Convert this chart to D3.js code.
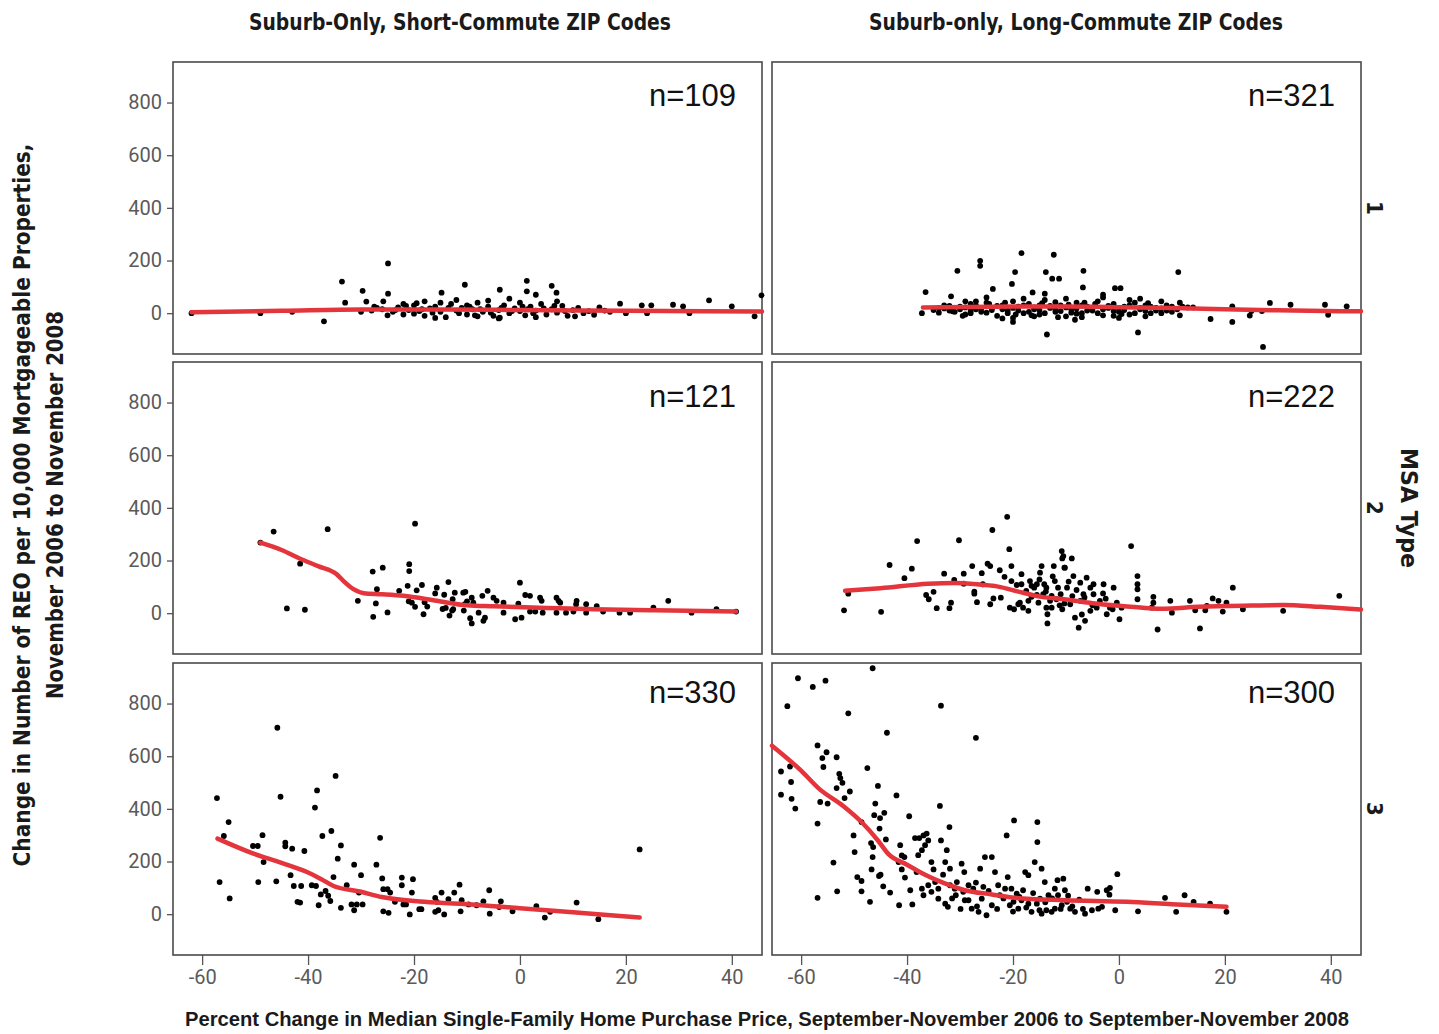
<!DOCTYPE html>
<html>
<head>
<meta charset="utf-8">
<script src="https://cdn.jsdelivr.net/npm/d3@7.9.0/dist/d3.min.js"></script>
<style>
  body { margin: 0; background: #fff; }
  .title { font-family: "Liberation Sans Narrow", "DejaVu Sans Condensed", sans-serif; font-weight: bold; fill: #1a1a1a; }
  .tick text { font-family: "Liberation Sans Narrow", "Roboto", sans-serif; font-size: 20px; fill: #5a5a5a; }
  .tick line { stroke: #555; stroke-width: 1.3; }
</style>
</head>
<body>
<svg width="1439" height="1034"></svg>
<script>
// column / row labels
const colTitles = ['Suburb-Only, Short-Commute ZIP Codes', 'Suburb-only, Long-Commute ZIP Codes'];
const rowLabels = ['1', '2', '3'];
const nLabels = [['n=109', 'n=321'], ['n=121', 'n=222'], ['n=330', 'n=300']];
const xTicks = [-60, -40, -20, 0, 20, 40];
const yTicks = [0, 200, 400, 600, 800];

// MSA type 1, short commute
const short1 = [[-62,0],[-49,0],[-43,5],[-37,-31],[-33.6,120],[-33,40],[-29.7,85],[-29,44],[-24.9,189],[-24.9,74],
  [-25.8,45],[-10.4,108],[-14.8,78],[1.3,123],[6,104],[1.3,83],[-3.8,89],[3,70],[6.9,78],[35.7,49],[40,26],[45.6,68],
  [44.3,-12],[28.9,32],[30.8,26],[32,0],[24.8,30],[23,30],[24,0],[18.9,36],[20,0],[15,22],[10.4,-12],[-3.8,-17],
  [-28,10],[-27,20],[-26,15],[-24,5],[-23,22],[-22,-5],[-21,12],[-20,30],[-19,8],[-18,-10],[-17,18],[-16,25],[-15,5],
  [-14,-15],[-13,35],[-12,10],[-11,20],[-10,-5],[-9,15],[-8,40],[-7,5],[-6,25],[-5,-10],[-4,12],[-3,30],[-2,0],[-1,18],
  [0,8],[1,-8],[2,25],[3,10],[4,35],[5,-5],[6,15],[7,2],[8,28],[9,-10],[10,12],[11,20],[12,0],[13,8],[14,-6],[16,10],
  [17,5],[-18,45],[-12,50],[-6,48],[-2,55],[-25,-8],[-20,-2],[-16,-18],[-10,30],[-8,-12],[-4,-20],[0,40],[3,-15],
  [7,45],[-22,35],[-15,40],[-30,5],
  [-27.5,25],[-23.5,12],[-21.5,28],[-18.5,15],[-16.5,2],[-13.5,20],[-11.5,0],[-9.5,25],[-7.5,15],[-5.5,2],[-3.5,20],
  [-1.5,8],[0.5,25],[2.5,0],[4.5,18],[6.5,28],[8.5,8],[-19.5,38],[-8.5,-8],[1.5,15]];
const fitShort1 = [[-62,4],[-45,9],[-30,14],[-15,14],[0,12],[20,9],[45.7,6]];

// MSA type 1, long commute
const long1 = [[-37.2,0],[-36.5,80],[-30.5,161],[-26.2,199],[-26.2,180],[-31.7,64],[-31.4,7],[-18.4,228],[-12.3,222],
  [-19.6,156],[-20.2,111],[-13.8,156],[-12.6,131],[-11.3,131],[-23.8,92],[-16.3,79],[-20,-18],[-20,-33],[-13.6,-81],
  [-14,74],[-29,45],[-27,45],[-6.7,161],[11.2,156],[-0.75,95],[0.3,95],[-3,70],[-6.8,98],[3.6,-73],[0,-18],[-8.3,-25],
  [28.5,39],[32.4,32],[38.9,32],[39.5,-6],[43,26],[27.2,-128],[24.7,-9],[21.4,-33],[21.4,26],[17.3,-22],[14,22],[13,22],
  [11.5,40],[11.5,-8],[25,8],[27,8],
  [-34,20],[-33,30],[-32,10],[-30,25],[-29,-5],[-28,35],[-27,15],[-26,5],[-25,40],[-24,20],[-23,-10],[-22,30],[-21,10],
  [-20,45],[-19,25],[-18,0],[-17,35],[-16,15],[-15,-5],[-14,50],[-13,20],[-12,5],[-11,30],[-10,-12],[-9,15],[-8,40],
  [-7,0],[-6,25],[-5,10],[-4,45],[-3,-8],[-2,20],[-1,35],[0,5],[1,25],[2,-5],[3,40],[4,15],[5,30],[6,0],[7,20],[8,45],
  [9,10],[10,25],[-25,60],[-22,-20],[-18,55],[-15,30],[-10,55],[-7,-15],[-3,60],[2,50],[5,-12],[-28,0],[-16,-12],
  [-12,42],[-8,-2],[-1,-10],[4,55],[8,0],
  [-35,12],[-34,2],[-33,18],[-32,28],[-31,5],[-30,15],[-29,22],[-28,8],[-27,30],[-26,18],[-25,2],[-24,12],[-23,28],
  [-22,15],[-21,0],[-20,20],[-19,10],[-18,30],[-17,5],[-16,22],[-15,12],[-14,0],[-13,28],[-12,16],[-11,8],[-10,22],
  [-9,2],[-8,18],[-7,30],[-6,10],[-5,20],[-4,0],[-3,15],[-2,28],[-1,8],[0,18],[1,12],[2,30],[3,0],[4,20],[5,8],[6,25],
  [7,10],[8,18],[9,30],[10,5],[11,15],[12,25],[-24.5,35],[-19.5,-5],[-14.5,38],[-9.5,32],[-4.5,35],[0.5,-3],[5.5,38],
  [-29.5,-10],[-21.5,40],[-16.5,-8],[-11.5,-15],[-6.5,40]];
const fitLong1 = [[-37,22],[-20,25],[-10,25],[0,23],[10,20],[20,15],[30,11],[45.7,7]];

// MSA type 2, short commute
const short2 = [[-49,268],[-46.5,310],[-36.3,319],[-19.8,340],[-41.5,188],[-44,18],[-40.6,13],[-30.6,47],[-27.8,158],
  [-25.9,173],[-27.2,37],[-27.7,-14],[-25,3],[-27,91],[-20.9,186],[-20.9,160],[-22.8,85],[-21.2,104],[-19.5,87],
  [-18.5,107],[-21,45],[-20.4,40],[-19.8,24],[-18.2,-4],[-18,42],[-17.5,25],[-15.7,97],[-16,75],[-14.3,70],[-13.5,118],
  [-12.3,78],[-10.3,81],[-14.6,16],[-14,20],[-13.3,-9],[-12.8,10],[-12.6,15],[-12.7,53],[-10.6,10],[-10,45],[-9.4,-19],
  [-10.7,78],[-9.1,59],[-8.8,40],[-10.4,34],[-7.1,66],[-6.1,85],[-5,59],[-4.4,47],[-7.8,2],[-6.6,-17],[-6.9,-29],
  [-9.1,-39],[-3.1,40],[-3.1,2],[-0.9,-23],[0.3,-17],[0,116],[1,69],[1.9,66],[-0.3,36],[1.9,6],[2.9,6],[3.8,59],
  [4.1,47],[4.3,2],[6.9,59],[7.3,47],[7.6,40],[6.9,2],[8.7,2],[10.6,34],[10.7,47],[10.1,6],[12.5,34],[12.5,2],
  [14.5,27],[15.7,6],[18.8,2],[20.8,2],[25.2,21],[28,47],[32.4,2],[37.1,15],[40.8,6]];
const fitShort2 = [[-49,268],[-45,240],[-41.5,207],[-38,178],[-34.6,148],[-33.3,122],[-31.5,92],[-29.5,76],[-26,72],
  [-22,66],[-15.7,47],[-10,30],[-5,26],[5,20],[14,15],[25,11],[40.8,6]];

// MSA type 2, long commute
const long2 = [[-51.9,11],[-51.1,74],[-44.9,5],[-43.3,183],[-40.5,133],[-39.1,169],[-38.1,274],[-30.2,277],[-36.4,69],
  [-35.9,53],[-35,81],[-34.4,19],[-32,19],[-31.7,40],[-33,150],[-31.1,126],[-29.3,150],[-29.3,112],[-27.7,179],
  [-27.3,82],[-27.3,74],[-26.8,42],[-25.9,152],[-25.7,110],[-24.8,188],[-24.3,179],[-24.3,34],[-23.9,316],[-21.1,366],
  [-20.7,243],[-23.7,56],[-22.3,59],[-21.6,138],[-22.5,163],[-20.3,179],[-20.3,122],[-20.6,21],[-19.8,15],[-19,34],
  [-18.4,148],[-19.3,107],[-18.4,110],[-18.1,21],[-17.1,9],[-16.8,122],[-16.5,104],[-16,97],[-15.5,69],[-14.9,154],
  [-14.6,179],[-14.1,110],[-13.7,97],[-13.7,21],[-13.5,-4],[-13.5,-39],[-13,47],[-12.7,21],[-12.3,179],[-12.1,122],
  [-11.5,97],[-11,72],[-10.7,208],[-10.7,15],[-10.3,37],[-10.3,173],[-15.5,110],[-14.3,72],[-12.7,66],[-11.8,53],
  [-15.2,40],[-17.1,47],[-18.7,40],
  [-10.8,236],[-10.5,217],[-8.6,141],[-7.3,116],[-6.1,135],[-5.4,97],[-4.8,72],[-3.6,47],[-1.7,21],[-1,97],[-2.9,110],
  [-6.7,72],[-9.2,34],[-8.3,-17],[-6.4,-29],[-7.6,-55],[-4.2,21],[-9.8,97],[-10.2,173],[-8.9,208],[-7.3,47],[-5.4,9],
  [-2.3,-4],[-0.4,40],[-4.8,110],[2.3,255],[3.5,141],[3.5,110],[3.5,91],[3.5,53],[6.5,62],[6.5,40],[6.2,21],[9.7,47],
  [10,2],[13.4,47],[14.4,11],[16.3,11],[16.6,28],[17.7,56],[18.8,47],[19.6,6],[20.3,40],[21.5,97],[23.4,15],[31,9],
  [41.6,66],[15.3,-58],[7.3,-62],[0.1,-23],[-1.2,15],[0.5,21],
  [-17.5,85],[-15,128],[-12.5,140],[-9.5,120],[-8,88],[-6.5,60],[-5,30],[-3,75],[-16.5,62],[-13.8,82],[-11.2,30],
  [-8.8,65],[-7,-5],[-2.5,55]];
const fitLong2 = [[-51.7,85],[-45,95],[-36,112],[-31,115],[-26,108],[-22.8,101],[-19,82],[-14.6,62],[-10,52],[-5,38],
  [0,28],[5,20],[8,17],[15,24],[25,29],[31,31],[38,24],[45.7,14]];

// MSA type 3, short commute
const short3 = [[-57.2,441],[-55.9,297],[-55,350],[-56.7,122],[-54.8,60],[-50.4,259],[-49.5,259],[-48.6,300],
  [-49.4,122],[-48.4,198],[-46,125],[-45.8,708],[-45.2,446],[-44.3,272],[-44.3,258],[-43,249],[-43.3,148],[-42.7,107],
  [-41.3,107],[-40.7,240],[-42,47],[-41.5,44],[-39.3,110],[-38.5,107],[-38.7,405],[-38.3,470],[-37.3,297],[-38,34],
  [-37.6,75],[-36.7,88],[-36.2,70],[-35.8,50],[-35.6,316],[-34.8,525],[-35.2,141],[-34.4,211],[-33.8,261],[-33.8,24],
  [-32.7,110],[-31.8,37],[-31.3,15],[-30.8,37],[-31.3,188],[-30.4,82],[-30,148],[-29.7,37],[-27.1,188],[-26.4,290],
  [-26,136],[-25.8,95],[-25,95],[-24.5,82],[-25.8,11],[-24.8,5],[-23.6,47],[-22,37],[-21.5,37],[-22.3,139],[-22.3,110],
  [-20.8,-1],[-20.2,133],[-20.4,82],[-19,19],[-18.6,19],[-16,62],[-15.7,47],[-16,9],[-15.4,15],[-14.8,82],[-14.3,-1],
  [-13.5,57],[-12.4,82],[-11.4,112],[-11.2,11],[-11,53],[-6.9,49],[-5.8,91],[-5.7,2],[-3.6,49],[-1.4,11],[3.1,31],
  [4.7,-13],[10.7,44],[14.8,-19],[22.6,246],[-8.2,34],[-3.9,27],[5.7,9],[-9.7,37]];
const fitShort3 = [[-57.1,287],[-50.3,230],[-45,195],[-40.3,161],[-37.5,133],[-35.2,107],[-30,85],[-26.1,65],
  [-18.9,48],[-11.3,40],[0,23],[10,7],[22.6,-13]];

// MSA type 3, long commute
const long3 = [[-60.6,896],[-57.8,863],[-55.4,887],[-46.5,934],[-62.6,790],[-51.1,763],[-43.8,689],[-33.6,792],
  [-27,670],[-63.8,542],[-63.8,454],[-61.9,502],[-62.1,561],[-61.8,438],[-61.1,401],[-56.9,641],[-55.2,615],[-56,593],
  [-55.8,559],[-53.3,596],[-52.8,533],[-52.6,517],[-52.2,499],[-53.3,479],[-51.8,441],[-50.8,466],[-56.4,426],
  [-55,420],[-56.9,344],[-56.9,62],[-53.2,87],[-53.9,196],[-50.1,299],[-49.9,236],[-48.6,350],[-47.5,555],[-49.4,141],
  [-48.6,126],[-48.6,87],[-47,47],[-46.8,270],[-46.4,255],[-46.5,217],[-46.7,170],[-45.5,487],[-46,420],[-46.2,376],
  [-45.1,365],[-44.3,385],[-45.2,325],[-44,284],[-45.3,145],[-45,150],[-44.5,106],[-43.2,82],[-42,451],[-41.5,34],
  [-41.6,198],[-41,223],[-40.5,217],[-40.4,139],[-41,170],[-41.3,262],[-39.6,372],[-39.4,91],[-39,37],
  [-38.5,289],[-37.7,289],[-36.9,299],[-36.3,306],[-36.6,262],[-36,280],[-37.2,243],[-35.4,198],[-37.9,224],
  [-38.2,160],[-37.2,97],[-36.9,72],[-36,110],[-35.4,85],[-34.7,122],[-33.8,411],[-33.6,280],[-32,331],[-32.5,243],
  [-32.8,198],[-32.8,40],[-32.3,28],[-34.1,59],[-31.9,173],[-31,97],[-30.8,72],[-29.7,192],[-29.2,160],[-29.1,53],
  [-27.8,21],[-27.5,97],[-26.5,9],[-26.2,173],[-25.3,217],[-25,-4],[-24,217],[-23.4,160],[-22.8,110],[-21.2,299],
  [-19.8,356],[-21,141],[-20.3,97],[-19.9,47],[-19,21],[-17.7,160],[-17.1,148],[-15.9,198],[-15.4,350],[-15.4,274],
  [-14.6,173],[-14.9,59],[-14,122],[-13.3,72],[-12.7,9],[-11.6,129],[-11.5,72],[-10.8,34],
  [-28.4,110],[-25.6,104],[-22.5,72],[-21.5,97],[-20.6,34],[-18.4,53],[-17.1,40],[-16.5,9],[-15.5,40],[-14.6,2],
  [-13.7,15],[-12.1,21],[-25.9,59],[-30.6,122],[-29.4,85],[-34.1,97],[-31.9,110],[-28.4,53],[-24,34],[-19.3,78],
  [-18.1,91],[-12.1,97],
  [-10.5,135],[-10.2,91],[-9.8,47],[-9.2,21],[-8.3,9],[-6.4,2],[-5.1,15],[-3.9,21],[-3.2,28],[-5.9,97],[-4.1,85],
  [-2.3,91],[-1.8,74],[-1.7,100],[-0.3,152],[-0.7,15],[3.6,11],[8.7,62],[10.8,9],[12.4,72],[14.1,47],[17.2,40],[20.3,9],
  [-23,20],[-21.8,60],[-20,10],[-18.8,66],[-17.5,25],[-16.2,80],[-15,15],[-13.9,45],[-12.6,60],[-11,20],[-9.6,70],
  [-8.8,30],[-7.5,55],[-6.8,20],[-26.8,30],[-24.6,88],[-29.9,20],[-27,120],[-31.5,60],[-33.2,150],[-35,170]];
const fitLong3 = [[-65.5,640],[-60,545],[-56.7,478],[-52,410],[-48.6,350],[-45.5,280],[-43.5,228],[-40,188],
  [-36.6,150],[-33,118],[-29.1,91],[-24,75],[-19.6,62],[-10.2,53],[1.5,47],[10,38],[20.3,28]];

const panels = [
  { row: 0, col: 0, pts: short1, fit: fitShort1 },
  { row: 0, col: 1, pts: long1, fit: fitLong1 },
  { row: 1, col: 0, pts: short2, fit: fitShort2 },
  { row: 1, col: 1, pts: long2, fit: fitLong2 },
  { row: 2, col: 0, pts: short3, fit: fitShort3 },
  { row: 2, col: 1, pts: long3, fit: fitLong3 }
];

const svg = d3.select('svg');
const W = 589, H = 292;
const colX = [173, 772];
const rowY = [62, 362, 663];
const nY = [44, 45, 40];

const x = d3.scaleLinear().domain([-65.5, 45.7]).range([0, W]);
const y = d3.scaleLinear().domain([-155, 954]).range([H, 0]);

const line = d3.line()
  .x(d => x(d[0]))
  .y(d => y(d[1]))
  .curve(d3.curveMonotoneX);

panels.forEach(p => {
  const g = svg.append('g').attr('transform', `translate(${colX[p.col]},${rowY[p.row]})`);

  // axes: y on the left column, x on the bottom row
  if (p.col === 0) {
    g.append('g')
      .call(d3.axisLeft(y).tickValues(yTicks).tickSize(6).tickPadding(5).tickFormat(d => String(d)))
      .call(a => a.select('.domain').remove());
  }
  if (p.row === 2) {
    g.append('g')
      .attr('transform', `translate(0,${H})`)
      .call(d3.axisBottom(x).tickValues(xTicks).tickSize(10).tickPadding(5).tickFormat(d => String(d)))
      .call(a => a.select('.domain').remove());
  }

  g.append('rect')
    .attr('width', W).attr('height', H)
    .attr('fill', 'none')
    .attr('stroke', '#4a4a4a')
    .attr('stroke-width', 1.6);

  g.selectAll('circle')
    .data(p.pts)
    .join('circle')
    .attr('cx', d => x(d[0]))
    .attr('cy', d => y(d[1]))
    .attr('r', 2.9)
    .attr('fill', '#000');

  g.append('path')
    .datum(p.fit)
    .attr('d', line)
    .attr('fill', 'none')
    .attr('stroke', '#e3353b')
    .attr('stroke-width', 4.5)
    .attr('stroke-linecap', 'round');

  g.append('text')
    .attr('x', W - 26)
    .attr('y', nY[p.row])
    .attr('text-anchor', 'end')
    .style('font-family', '"Liberation Sans", Arial, sans-serif')
    .style('font-size', '31px')
    .style('fill', '#111')
    .text(nLabels[p.row][p.col]);
});

// column titles
svg.selectAll('.coltitle')
  .data(colTitles)
  .join('text')
  .attr('class', 'title')
  .attr('x', (d, i) => colX[i] + [287, 304][i])
  .attr('y', 30)
  .attr('text-anchor', 'middle')
  .attr('textLength', (d, i) => [422, 414][i])
  .attr('lengthAdjust', 'spacingAndGlyphs')
  .style('font-size', '23px')
  .text(d => d);

// row strip labels (rotated)
rowLabels.forEach((r, i) => {
  svg.append('text')
    .attr('class', 'title')
    .attr('transform', `translate(1374,${rowY[i] + H / 2}) rotate(90)`)
    .attr('text-anchor', 'middle')
    .attr('dominant-baseline', 'central')
    .style('font-size', '22px')
    .text(r);
});

svg.append('text')
  .attr('class', 'title')
  .attr('transform', `translate(1409,508) rotate(90)`)
  .attr('text-anchor', 'middle')
  .attr('dominant-baseline', 'central')
  .attr('textLength', 120)
  .attr('lengthAdjust', 'spacingAndGlyphs')
  .style('font-size', '23px')
  .text('MSA Type');

// y axis title, two lines
const yTitle = ['Change in Number of REO per 10,000 Mortgageable Properties,', 'November 2006 to November 2008'];
const yTitleLen = [723, 388];
yTitle.forEach((t, i) => {
  svg.append('text')
    .attr('class', 'title')
    .attr('transform', `translate(${[22, 55][i]},505) rotate(-90)`)
    .attr('text-anchor', 'middle')
    .attr('dominant-baseline', 'central')
    .attr('textLength', yTitleLen[i])
    .attr('lengthAdjust', 'spacingAndGlyphs')
    .style('font-size', '23px')
    .text(t);
});

// x axis title
svg.append('text')
  .attr('class', 'title')
  .attr('x', 767)
  .attr('y', 1026)
  .attr('text-anchor', 'middle')
  .attr('textLength', 1164)
  .attr('lengthAdjust', 'spacingAndGlyphs')
  .style('font-family', '"Liberation Sans", Arial, sans-serif')
  .style('font-size', '21px')
  .text('Percent Change in Median Single-Family Home Purchase Price, September-November 2006 to September-November 2008');
</script>
</body>
</html>
